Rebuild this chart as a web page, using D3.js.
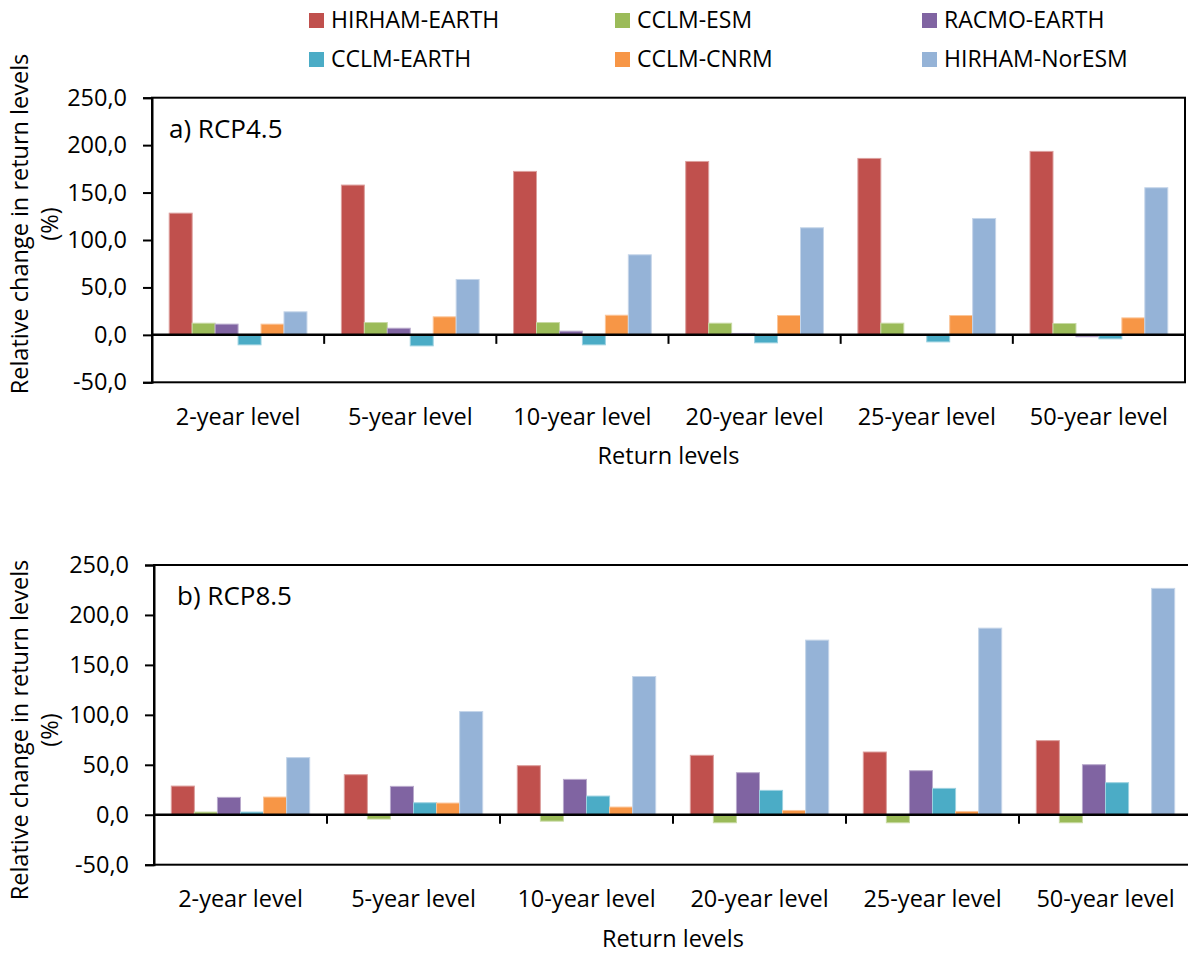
<!DOCTYPE html>
<html>
<head>
<meta charset="utf-8">
<script src="https://cdn.jsdelivr.net/npm/d3@7"></script>
<style>
  body { margin: 0; background: #fff; }
  svg text { font-family: "Open Sans", sans-serif; fill: #000; }
</style>
</head>
<body>
<svg id="chart" width="1188" height="953"></svg>
<script>
// return levels on the x axis
const categories = ["2-year level", "5-year level", "10-year level", "20-year level", "25-year level", "50-year level"];
const models = ["HIRHAM-EARTH", "CCLM-ESM", "RACMO-EARTH", "CCLM-EARTH", "CCLM-CNRM", "HIRHAM-NorESM"];
const colors = ["#C0504D", "#9BBB59", "#8064A2", "#4BACC6", "#F79646", "#95B3D7"];
const yTicks = [-50, 0, 50, 100, 150, 200, 250];

// one row per model, same order as models
const rcp45 = [
  [128.3, 157.9, 172.3, 182.8, 186.0, 193.4],
  [12.3, 13.0, 13.0, 12.3, 12.3, 12.0],
  [11.3, 7.0, 3.9, 1.5, 0.2, -2.0],
  [-10.5, -11.6, -10.5, -8.4, -7.4, -4.2],
  [11.3, 19.0, 20.7, 20.4, 20.4, 17.9],
  [24.3, 58.4, 84.4, 112.9, 122.7, 155.1]
];
const rcp85 = [
  [28.7, 40.1, 49.1, 59.5, 62.8, 74.2],
  [2.7, -4.3, -6.4, -8.0, -8.0, -8.0],
  [17.4, 28.4, 35.4, 42.1, 44.1, 50.1],
  [2.7, 12.0, 18.7, 24.4, 26.4, 32.1],
  [17.7, 11.7, 7.7, 4.3, 3.3, 0],
  [57.2, 103.3, 138.4, 174.8, 186.8, 226.6]
];

const locale = d3.formatLocale({decimal: ",", thousands: ".", grouping: [3], currency: ["", ""], minus: "-"});
const fmt = locale.format(".1f");

const svg = d3.select("#chart");

// legend, 2 rows x 3 columns
const legX = [309, 615, 922];
const legY = [13, 52];
const legend = svg.append("g");
models.forEach(function(m, i) {
  var g = legend.append("g")
    .attr("transform", "translate(" + legX[i % 3] + "," + legY[Math.floor(i / 3)] + ")");
  g.append("rect").attr("width", 15).attr("height", 15).attr("fill", colors[i]);
  g.append("text").attr("x", 22).attr("y", 15).style("font-size", "23px").text(m);
});

function drawPanel(values, label, p) {
  var x = d3.scaleBand().domain(categories).range([p.left, p.right]);
  var xInner = d3.scaleBand().domain(models).range([0, x.bandwidth()]).paddingOuter(0.75);
  var y = d3.scaleLinear().domain([-50, 250]).range([p.bottom, p.top]);

  var g = svg.append("g");

  // bars
  models.forEach(function(m, s) {
    g.append("g").selectAll("rect")
      .data(values[s])
      .enter()
      .append("rect")
      .attr("x", function(d, i) { return x(categories[i]) + xInner(m); })
      .attr("width", xInner.bandwidth())
      .attr("y", function(d) { return Math.min(y(d), y(0)); })
      .attr("height", function(d) { return Math.abs(y(d) - y(0)); })
      .attr("fill", colors[s])
      .attr("stroke", d3.interpolateRgb(colors[s], "#fff")(0.45))
      .attr("stroke-width", 1);
  });

  // plot area border
  g.append("rect")
    .attr("x", p.left).attr("y", p.top)
    .attr("width", p.right - p.left).attr("height", p.bottom - p.top)
    .attr("fill", "none").attr("stroke", "#000").attr("stroke-width", 2);

  // zero line + category boundary ticks
  g.append("line")
    .attr("x1", p.left).attr("x2", p.right)
    .attr("y1", y(0)).attr("y2", y(0))
    .attr("stroke", "#000").attr("stroke-width", 2.5);
  g.append("g").selectAll("line")
    .data(categories.slice(1))
    .enter()
    .append("line")
    .attr("x1", function(d) { return x(d); })
    .attr("x2", function(d) { return x(d); })
    .attr("y1", y(0)).attr("y2", y(0) + 9)
    .attr("stroke", "#000").attr("stroke-width", 2);

  // y axis
  var yAxis = g.append("g")
    .attr("transform", "translate(" + p.left + ",0)")
    .call(d3.axisLeft(y).tickValues(yTicks).tickSize(9).tickPadding(16).tickFormat(fmt));
  yAxis.select(".domain").attr("stroke", "#000").attr("stroke-width", 2);
  yAxis.selectAll(".tick line").attr("stroke", "#000").attr("stroke-width", 2);
  yAxis.selectAll("text").style("font-size", "23.5px").attr("fill", "#000");

  // category labels
  var xAxis = g.append("g")
    .attr("transform", "translate(0," + p.bottom + ")")
    .call(d3.axisBottom(x).tickSize(0).tickPadding(26));
  xAxis.select(".domain").remove();
  xAxis.selectAll("text").style("font-size", "23.5px").attr("fill", "#000");

  // titles
  g.append("text")
    .attr("x", (p.left + p.right) / 2)
    .attr("y", p.bottom + 82)
    .attr("text-anchor", "middle")
    .style("font-size", "23.5px")
    .text("Return levels");

  var yt = g.append("text")
    .attr("text-anchor", "middle")
    .attr("transform", "translate(0," + p.yTitleY + ") rotate(-90)")
    .style("font-size", "23.5px");
  yt.append("tspan").attr("x", 0).attr("y", 28).text("Relative change in return levels");
  yt.append("tspan").attr("x", 0).attr("y", 58).text("(%)");

  g.append("text")
    .attr("x", p.labelX)
    .attr("y", p.top + 40)
    .style("font-size", "26px")
    .text(label);
}

drawPanel(rcp45, "a) RCP4.5", {left: 152, right: 1185, top: 97.7, bottom: 382.3, yTitleY: 224, labelX: 169});
drawPanel(rcp85, "b) RCP8.5", {left: 154, right: 1192, top: 565, bottom: 864.7, yTitleY: 730, labelX: 177});
</script>
</body>
</html>
